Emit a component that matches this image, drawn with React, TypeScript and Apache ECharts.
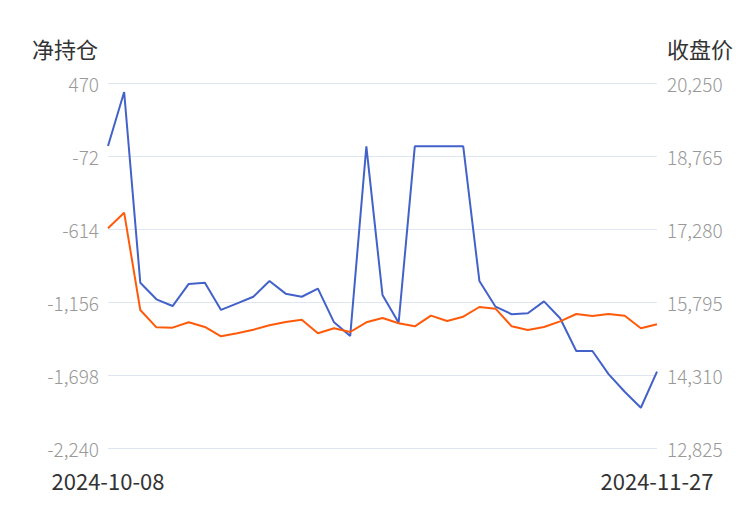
import React, { useEffect, useRef } from "react";
import * as echarts from "echarts";

const dates = [
  "2024-10-08", "2024-10-09", "2024-10-10", "2024-10-11", "2024-10-14", "2024-10-15",
  "2024-10-16", "2024-10-17", "2024-10-18", "2024-10-21", "2024-10-22", "2024-10-23",
  "2024-10-24", "2024-10-25", "2024-10-28", "2024-10-29", "2024-10-30", "2024-10-31",
  "2024-11-01", "2024-11-04", "2024-11-05", "2024-11-06", "2024-11-07", "2024-11-08",
  "2024-11-11", "2024-11-12", "2024-11-13", "2024-11-14", "2024-11-18", "2024-11-19",
  "2024-11-20", "2024-11-21", "2024-11-22", "2024-11-25", "2024-11-27",
];

const netPosition = [
  2, 403, -1013, -1136, -1186, -1022, -1013, -1215, -1166, -1117, -1000, -1094,
  -1117, -1057, -1307, -1408, 0, -1104, -1310, 0, 0, 0, 0, -1000,
  -1191, -1247, -1240, -1151, -1277, -1520, -1520, -1691, -1822, -1941, -1673,
];

const closePrice = [
  17294, 17612, 15632, 15280, 15273, 15382, 15287, 15097, 15158, 15232, 15321, 15388,
  15435, 15158, 15260, 15185, 15382, 15470, 15362, 15300, 15517, 15408, 15496, 15693,
  15659, 15300, 15226, 15287, 15402, 15551, 15510, 15551, 15517, 15260, 15341,
];

const leftAxis = { name: "净持仓", min: -2240, max: 470, interval: 542 };
const rightAxis = { name: "收盘价", min: 12825, max: 20250, interval: 1485 };

const FONT = "'Noto Sans CJK SC', 'Noto Sans', sans-serif";

export default function App() {
  const ref = useRef<HTMLDivElement>(null);
  useEffect(() => {
    if (!ref.current) return;
    const chart = echarts.init(ref.current, undefined, { renderer: "svg" });
    const last = dates.length - 1;
    const fmt = (v: number) => Math.round(v).toLocaleString("en-US");
    const valueLabel = { color: "#999", fontSize: 19, fontWeight: 300, fontFamily: FONT, formatter: fmt };
    chart.setOption({
      animation: false,
      textStyle: { fontFamily: FONT },
      grid: { left: 108, right: 93, top: 83, bottom: 62, containLabel: false },
      xAxis: {
        type: "category",
        data: dates,
        boundaryGap: false,
        axisLine: { show: false },
        axisTick: { show: false },
        splitLine: { show: false },
        axisLabel: {
          interval: (idx: number) => idx === 0 || idx === last,
          color: "#333",
          fontSize: 22,
          fontFamily: FONT,
          margin: 21,
          hideOverlap: false,
        },
      },
      yAxis: [
        {
          type: "value",
          name: leftAxis.name,
          min: leftAxis.min,
          max: leftAxis.max,
          interval: leftAxis.interval,
          position: "left",
          nameGap: 24,
          nameTextStyle: { color: "#333", fontSize: 22, fontFamily: FONT, align: "right", padding: [0, 10, 0, 0] },
          axisLine: { show: false },
          axisTick: { show: false },
          axisLabel: { ...valueLabel, margin: 9 },
          splitLine: { lineStyle: { color: "#E0E6F1" } },
        },
        {
          type: "value",
          name: rightAxis.name,
          min: rightAxis.min,
          max: rightAxis.max,
          interval: rightAxis.interval,
          position: "right",
          nameGap: 24,
          nameTextStyle: { color: "#333", fontSize: 22, fontFamily: FONT, align: "left", padding: [0, 0, 0, 10] },
          axisLine: { show: false },
          axisTick: { show: false },
          axisLabel: { ...valueLabel, margin: 10 },
          splitLine: { show: false },
        },
      ],
      series: [
        {
          name: leftAxis.name,
          type: "line",
          yAxisIndex: 0,
          data: netPosition,
          symbol: "none",
          lineStyle: { color: "#4362C9", width: 2 },
          itemStyle: { color: "#4362C9" },
        },
        {
          name: rightAxis.name,
          type: "line",
          yAxisIndex: 1,
          data: closePrice,
          symbol: "none",
          lineStyle: { color: "#FF5A0A", width: 2 },
          itemStyle: { color: "#FF5A0A" },
        },
      ],
    });
    return () => chart.dispose();
  }, []);
  return <div ref={ref} style={{ width: 750, height: 510, margin: -8 }} />;
}
